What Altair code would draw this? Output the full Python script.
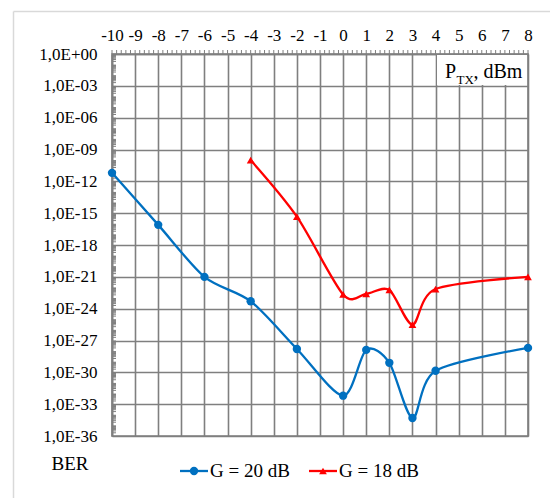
import altair as alt
import pandas as pd

# Transmit power, dBm, and measured bit error rate for two amplifier gains
p_tx_g20 = [-10, -8, -6, -4, -2, 0, 1, 2, 3, 4, 8]
ber_g20 = [6.3e-12, 7.9e-17, 1.0e-21, 5.0e-24, 1.6e-28, 6.3e-33,
           1.3e-28, 7.9e-30, 5.0e-35, 1.4e-30, 2.0e-28]

p_tx_g18 = [-4, -2, 0, 1, 2, 3, 4, 8]
ber_g18 = [1.0e-10, 4.7e-16, 2.2e-23, 2.5e-23, 5.8e-23, 3.2e-26,
           7.1e-23, 1.0e-21]

series_names = ["G = 20 dB", "G = 18 dB"]
series_colors = ["#0070C0", "#FF0000"]

x_ticks = list(range(-10, 9))
y_ticks = [10.0 ** (-k) for k in range(0, 37, 3)]
x_minor = [round(-10 + 0.2 * i, 1) for i in range(91)]
y_minor = [m * 10.0 ** (-(n + 1)) for n in range(36) for m in range(2, 10)]

W, H = 416, 382
FONT = "\"Liberation Serif\", \"Times New Roman\", \"DejaVu Serif\", serif"
GRID = "#7f7f7f"

df20 = pd.DataFrame({"p": p_tx_g20, "ber": ber_g20, "s": series_names[0]})
df18 = pd.DataFrame({"p": p_tx_g18, "ber": ber_g18, "s": series_names[1]})

x_scale = alt.Scale(domain=[-10, 8], nice=False, zero=False)
y_scale = alt.Scale(type="log", domain=[1e-36, 1], nice=False)

label_expr = (
    "'1,0E' + (datum.value >= 1 ? '+00' : '-' + "
    "(round(-log(datum.value)/LN10) < 10 ? '0' : '') + round(-log(datum.value)/LN10))"
)

x_axis = alt.Axis(
    orient="top", values=x_ticks, grid=True, gridColor=GRID, gridWidth=1.6,
    domainColor=GRID, domainWidth=1.6, ticks=False, labelFont=FONT,
    labelFontSize=17, labelColor="black", labelPadding=10, title=None,
    labelOverlap=False, labelFlush=False, labelExpr="'' + datum.value",
)
y_axis = alt.Axis(
    values=y_ticks, grid=True, gridColor=GRID, gridWidth=1.6, domainColor=GRID,
    domainWidth=1.6, ticks=False, labelFont=FONT, labelFontSize=17,
    labelColor="black", labelPadding=15, title=None, labelExpr=label_expr,
    labelOverlap=False, labelFlush=False,
)

X = alt.X("p:Q", scale=x_scale, axis=x_axis)
Y = alt.Y("ber:Q", scale=y_scale, axis=y_axis)

one = pd.DataFrame({"k": [0]})

# axes and grid carried by an invisible layer
frame = alt.Chart(df20).mark_point(opacity=0).encode(x=X, y=Y)

# minor ticks along the top and left edges
x_minor_ticks = alt.Chart(pd.DataFrame({"p": x_minor})).mark_rule(
    color=GRID, strokeWidth=1
).encode(x=X, y=alt.value(-4), y2=alt.value(0))

y_minor_ticks = alt.Chart(pd.DataFrame({"ber": y_minor})).mark_rule(
    color=GRID, strokeWidth=1
).encode(y=Y, x=alt.value(0), x2=alt.value(4))

# white box behind the axis title
title_box = alt.Chart(one).mark_rect(color="white").encode(
    x=alt.value(325), x2=alt.value(415), y=alt.value(1), y2=alt.value(31)
)


def series(df, color, shape, size):
    line = alt.Chart(df).mark_line(
        color=color, strokeWidth=2.3, interpolate="cardinal", tension=0.15
    ).encode(x=X, y=Y)
    pts = alt.Chart(df).mark_point(
        color=color, filled=True, opacity=1, shape=shape, size=size
    ).encode(x=X, y=Y)
    return line + pts


s20 = series(df20, series_colors[0], "circle", 70)
s18 = series(df18, series_colors[1], "triangle-up", 60)

# axis titles
ptx_p = alt.Chart(one).mark_text(
    text="P", font=FONT, fontSize=20, align="left", baseline="alphabetic", color="black"
).encode(x=alt.value(333), y=alt.value(24))
ptx_sub = alt.Chart(one).mark_text(
    text="TX", font=FONT, fontSize=13, align="left", baseline="alphabetic", color="black"
).encode(x=alt.value(344.5), y=alt.value(30))
ptx_unit = alt.Chart(one).mark_text(
    text=", dBm", font=FONT, fontSize=20, align="left", baseline="alphabetic", color="black"
).encode(x=alt.value(361.5), y=alt.value(24))
ber_title = alt.Chart(one).mark_text(
    text="BER", font=FONT, fontSize=19, align="center", baseline="middle", color="black"
).encode(x=alt.value(-42), y=alt.value(410))

# legend below the plot
legend_layers = []
for i, (name, color, shape, size) in enumerate(
    zip(series_names, series_colors, ["circle", "triangle-up"], [70, 60])
):
    x0 = 68 + i * 129
    legend_layers.append(alt.Chart(one).mark_rule(color=color, strokeWidth=2.3).encode(
        x=alt.value(x0), x2=alt.value(x0 + 28), y=alt.value(417)))
    legend_layers.append(alt.Chart(one).mark_point(
        color=color, filled=True, opacity=1, shape=shape, size=size
    ).encode(x=alt.value(x0 + 14), y=alt.value(417)))
    legend_layers.append(alt.Chart(one).mark_text(
        text=name, font=FONT, fontSize=19, align="left", baseline="middle", color="black"
    ).encode(x=alt.value(x0 + 30), y=alt.value(417)))

# light outer frame (left and top edges)
frame_left = alt.Chart(one).mark_rule(color="#d9d9d9", strokeWidth=1.5).encode(
    x=alt.value(-98.5), y=alt.value(-42.5), y2=alt.value(460))
frame_top = alt.Chart(one).mark_rule(color="#d9d9d9", strokeWidth=1.5).encode(
    x=alt.value(-98.5), x2=alt.value(460), y=alt.value(-42.5))

chart = alt.layer(
    frame, x_minor_ticks, y_minor_ticks, title_box, s20, s18,
    ptx_p, ptx_sub, ptx_unit, ber_title, *legend_layers, frame_left, frame_top,
).properties(
    width=W, height=H,
    autosize=alt.AutoSizeParams(type="none"),
    padding={"left": 112, "top": 54, "right": 22, "bottom": 62},
    background="white",
).configure_view(stroke=GRID, strokeWidth=1.6)

chart.save("out.html", embed_options={"renderer": "svg", "actions": False})
